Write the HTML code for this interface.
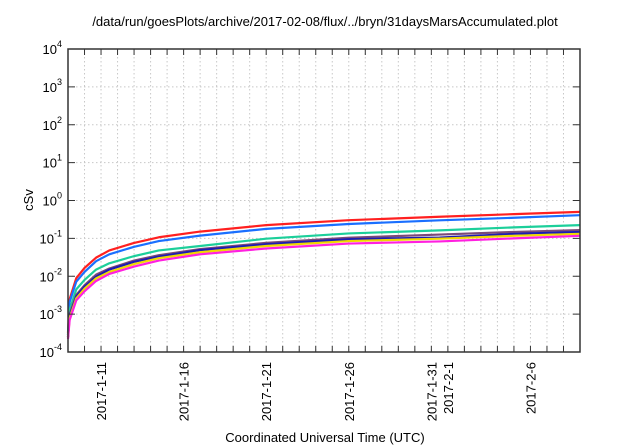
<!DOCTYPE html>
<html><head><meta charset="utf-8"><style>
body{margin:0;background:#fff}
svg{display:block;font-family:"Liberation Sans",sans-serif}
</style></head><body>
<svg id="chart" width="640" height="448" viewBox="0 0 640 448">
<text x="325" y="26" font-size="13" text-anchor="middle">/data/run/goesPlots/archive/2017-02-08/flux/../bryn/31daysMarsAccumulated.plot</text>
<text transform="translate(33,200) rotate(-90)" font-size="13" text-anchor="middle">cSv</text>
<text x="325" y="442" font-size="13" text-anchor="middle">Coordinated Universal Time (UTC)</text>
<g id="grid"></g><g id="series"></g><g id="axes"></g>
</svg>
<script>
const days=[0,0.1,0.5,1,1.7,2.5,4,5.5,8,12,17,22.5,27,31];
const red=[0.00032,0.0025,0.0089,0.0166,0.031,0.048,0.076,0.107,0.151,0.224,0.302,0.372,0.437,0.50];
const blue=[0.00028,0.0021,0.0072,0.013,0.025,0.038,0.06,0.085,0.118,0.178,0.24,0.30,0.35,0.41];
const teal=[0.00028,0.0013,0.0045,0.008,0.015,0.022,0.034,0.048,0.063,0.098,0.135,0.163,0.195,0.224];
const purple=[0.00025,0.0010,0.0032,0.0058,0.011,0.016,0.026,0.036,0.052,0.076,0.104,0.126,0.148,0.166];
const darkblue=[0.00025,0.0009,0.0029,0.0053,0.0097,0.015,0.024,0.033,0.049,0.07,0.095,0.105,0.132,0.148];
const yellow=[0.00024,0.0008,0.0026,0.0047,0.0088,0.013,0.021,0.03,0.043,0.063,0.085,0.098,0.117,0.132];
const magenta=[0.00022,0.0007,0.0023,0.004,0.0075,0.0115,0.018,0.026,0.038,0.054,0.073,0.083,0.1,0.117];
const xTickDays=[2,7,12,17,22,23,28];
const xTickLabels=["2017-1-11","2017-1-16","2017-1-21","2017-1-26","2017-1-31","2017-2-1","2017-2-6"];
const yExps=[-4,-3,-2,-1,0,1,2,3,4];
const L=68,R=580,T=49,B=352,D0=0,D1=31;
const NS="http://www.w3.org/2000/svg";
function xs(d){return L+(d-D0)/(D1-D0)*(R-L);}
function ys(v){return B-(Math.log10(v)+4)/8*(B-T);}
function mk(tag,attrs,parent){const e=document.createElementNS(NS,tag);for(const k in attrs)e.setAttribute(k,attrs[k]);parent.appendChild(e);return e;}
const grid=document.getElementById('grid'),axes=document.getElementById('axes'),ser=document.getElementById('series');
for(let d=1;d<D1;d++){const x=xs(d);
 const g=mk('line',{x1:x,x2:x,y1:T,y2:B,stroke:'#c8c8c8','stroke-dasharray':'1.5,2.5','stroke-width':1},grid);
 
 for(const [a,b] of [[B,B-6],[T,T+6]]){const t=mk('line',{x1:x,x2:x,y1:a,y2:b,stroke:'#333','stroke-width':1},axes);
 }}
yExps.forEach(e=>{const y=ys(Math.pow(10,e));
 if(e>-4&&e<4){const g=mk('line',{x1:L,x2:R,y1:y,y2:y,stroke:'#c8c8c8','stroke-dasharray':'1.5,2.5','stroke-width':1},grid);
 }
 for(const [a,b] of [[L,L+7],[R,R-7]]){const t=mk('line',{x1:a,x2:b,y1:y,y2:y,stroke:'#333','stroke-width':1},axes);
 }
 const tx=mk('text',{x:L-6,y:y+5,'font-size':13,'text-anchor':'end'},axes);
 
 tx.textContent='10';const sp=mk('tspan',{dy:-7,'font-size':9},tx);sp.textContent=String(e);});
xTickDays.forEach((d,i)=>{const x=xs(d);
 const tx=mk('text',{transform:`translate(${x+5},362) rotate(-90)`,'font-size':13,'text-anchor':'end'},axes);
 
 tx.textContent=xTickLabels[i];});
const fr=mk('rect',{x:L,y:T,width:R-L,height:B-T,fill:'none',stroke:'#333','stroke-width':1.5},axes);

const list=[[red,'#ff2020','series-red'],[blue,'#1a6fff','series-blue'],[teal,'#1ccf9a','series-teal'],[purple,'#7a4a78','series-purple'],[darkblue,'#1c1cb4','series-darkblue'],[yellow,'#f0d800','series-yellow'],[magenta,'#ff20e0','series-magenta']];
list.forEach(([v,c,n])=>{const p=mk('polyline',{points:days.map((d,i)=>xs(d)+','+ys(v[i])).join(' '),fill:'none',stroke:c,'stroke-width':2.2,'stroke-linejoin':'round'},ser);
 });
</script>
</body></html>
